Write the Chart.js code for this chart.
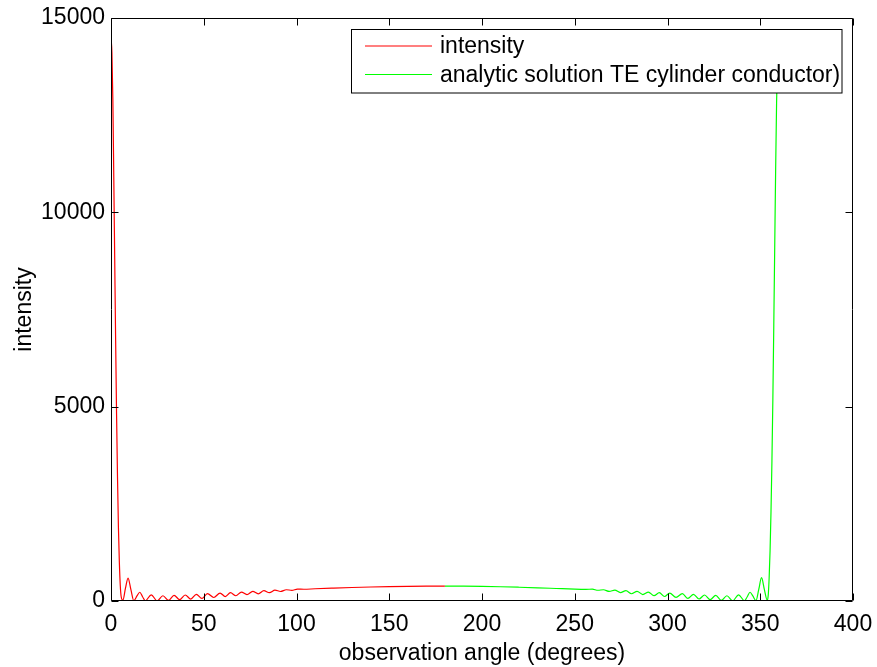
<!DOCTYPE html>
<html>
<head>
<meta charset="utf-8">
<script src="https://cdn.jsdelivr.net/npm/chart.js@4/dist/chart.umd.min.js"></script>
<style>
  html, body { margin: 0; padding: 0; background: #ffffff; }
  #wrap { width: 877px; height: 667px; }
</style>
</head>
<body>
<div id="wrap"><canvas id="c" width="877" height="667"></canvas></div>
<script>
// Computed intensity, 0..180 degrees
const simAngles = [0, 0.5, 1, 1.5, 2, 2.5, 3, 3.5, 4, 4.5, 5, 5.5, 6.4, 7.8, 9.2, 10.7, 12.3, 14, 15.5, 17, 18.5,
  21.7, 24.8, 28, 31, 34, 37, 40, 43, 46, 49, 52, 55.4, 58.8, 61.6, 64.4, 67.3, 70.3, 73.3, 76.4, 79.4,
  82.4, 85.4, 88.4, 91.4, 94.5, 97.5, 100.5, 104, 110, 120, 130, 140, 150, 160, 170, 180];
const simIntensity = [14500, 14100, 12900, 10900, 8800, 6700, 4800, 3200, 1900, 1000, 400, 110, 20, 330, 590, 300, 10, 130, 225, 110, 5,
  160, 5, 135, 15, 145, 35, 155, 50, 170, 65, 190, 90, 205, 115, 215, 135, 230, 165, 250, 185,
  265, 215, 280, 245, 290, 275, 305, 302, 315, 332, 347, 360, 370, 378, 383, 385];

// Analytic solution, 180..360 degrees
const exactAngles = [180, 190, 200, 210, 220, 230, 240, 250, 256, 259.5, 262.5, 265.5, 268.6, 271.6, 274.6, 277.6,
  280.6, 283.6, 286.7, 289.7, 292.7, 295.6, 298.4, 301.2, 304.6, 308, 311, 314, 317, 320, 323, 326, 329, 332,
  335.2, 338.3, 341.5, 343, 344.5, 346, 347.7, 349.2, 350.7, 352.2, 353.8, 354.3, 354.8, 355.3, 355.8, 356.3,
  356.8, 357.3, 357.8, 358.3, 358.8, 359.3, 359.7, 360];
const exactIntensity = [385, 382, 376, 367, 354, 339, 322, 305, 300, 304, 276, 290, 246, 280, 216, 265,
  186, 250, 166, 230, 136, 215, 116, 205, 91, 190, 66, 170, 51, 155, 36, 145, 16, 135,
  6, 160, 6, 110, 225, 130, 10, 300, 600, 300, 20, 150, 600, 1300, 2300, 3600,
  5200, 7100, 9100, 11100, 12800, 14000, 14500, 14600];

const xTicks = [0, 50, 100, 150, 200, 250, 300, 350, 400];
const yTicks = [0, 5000, 10000, 15000];

const seriesNames = ['intensity', 'analytic solution TE cylinder conductor)'];
const xTitle = 'observation angle (degrees)';
const yTitle = 'intensity';

const FONT = "'Liberation Sans', Arial, Helvetica, sans-serif";
const FONT_SIZE = 23;

function toPoints(xs, ys) {
  return xs.map((x, i) => ({ x: x, y: ys[i] }));
}

// Box, inward tick marks, axis titles and legend, drawn over the plot
const frame = {
  id: 'frame',
  afterDatasetsDraw(chart) {
    const { ctx, chartArea: a, scales } = chart;
    const xs = scales.x, ys = scales.y;
    const L = Math.round(a.left) + 0.5, R = Math.round(a.right) - 0.5;
    const T = Math.round(a.top) + 0.5, B = Math.round(a.bottom) - 0.5;
    const len = 7;
    ctx.save();
    ctx.strokeStyle = '#000000';
    ctx.lineWidth = 1;
    ctx.beginPath();
    ctx.rect(L, T, R - L, B - T);
    xTicks.forEach(v => {
      const px = Math.round(xs.getPixelForValue(v)) + 0.5;
      ctx.moveTo(px, B); ctx.lineTo(px, B - len);
      ctx.moveTo(px, T); ctx.lineTo(px, T + len);
    });
    yTicks.forEach(v => {
      const py = Math.round(ys.getPixelForValue(v)) + 0.5;
      ctx.moveTo(L, py); ctx.lineTo(L + len, py);
      ctx.moveTo(R, py); ctx.lineTo(R - len, py);
    });
    ctx.stroke();

    // axis titles
    ctx.fillStyle = '#000000';
    ctx.font = FONT_SIZE + 'px ' + FONT;
    ctx.textAlign = 'center';
    ctx.textBaseline = 'alphabetic';
    ctx.fillText(xTitle, (a.left + a.right) / 2, 660);
    ctx.save();
    ctx.translate(31, (a.top + a.bottom) / 2);
    ctx.rotate(-Math.PI / 2);
    ctx.fillText(yTitle, 0, 0);
    ctx.restore();

    // legend
    const lx = 351.5, ly = 29.5, lw = 490.5, lh = 63.5;
    ctx.fillStyle = '#ffffff';
    ctx.fillRect(lx, ly, lw, lh);
    ctx.strokeStyle = '#000000';
    ctx.strokeRect(lx, ly, lw, lh);
    const rows = [46, 74.5];
    chart.data.datasets.forEach((ds, i) => {
      ctx.strokeStyle = ds.borderColor;
      ctx.lineWidth = 1.2;
      ctx.beginPath();
      ctx.moveTo(365, rows[i]);
      ctx.lineTo(432, rows[i]);
      ctx.stroke();
      ctx.fillStyle = '#000000';
      ctx.textAlign = 'left';
      ctx.textBaseline = 'middle';
      ctx.fillText(ds.label, 440, rows[i] + 1);
    });
    ctx.restore();
  }
};

new Chart(document.getElementById('c'), {
  type: 'line',
  data: {
    datasets: [
      {
        label: seriesNames[0],
        data: toPoints(simAngles, simIntensity),
        borderColor: '#ff0000',
        borderWidth: 1.2,
        pointRadius: 0,
        cubicInterpolationMode: 'monotone',
        fill: false
      },
      {
        label: seriesNames[1],
        data: toPoints(exactAngles, exactIntensity),
        borderColor: '#00ff00',
        borderWidth: 1.2,
        pointRadius: 0,
        cubicInterpolationMode: 'monotone',
        fill: false
      }
    ]
  },
  options: {
    responsive: false,
    animation: false,
    devicePixelRatio: 1,
    parsing: true,
    layout: { padding: { top: 18, right: 24, left: 0, bottom: 0 } },
    plugins: {
      legend: { display: false },
      tooltip: { enabled: false }
    },
    scales: {
      x: {
        type: 'linear',
        min: 0,
        max: 400,
        grid: { display: false, drawTicks: false },
        border: { display: false },
        afterBuildTicks: s => { s.ticks = xTicks.map(v => ({ value: v })); },
        afterFit: s => { s.height = 66; s.paddingLeft = 0; s.paddingRight = 0; },
        ticks: {
          autoSkip: false,
          maxRotation: 0,
          padding: 10,
          color: '#000000',
          font: { family: FONT, size: FONT_SIZE },
          callback: v => String(v)
        }
      },
      y: {
        type: 'linear',
        min: 0,
        max: 15000,
        grid: { display: false, drawTicks: false },
        border: { display: false },
        afterBuildTicks: s => { s.ticks = yTicks.map(v => ({ value: v })); },
        afterFit: s => { s.width = 111; s.paddingTop = 0; s.paddingBottom = 0; },
        ticks: {
          autoSkip: false,
          padding: 6,
          color: '#000000',
          font: { family: FONT, size: FONT_SIZE },
          callback: v => String(v)
        }
      }
    }
  },
  plugins: [frame]
});
</script>
</body>
</html>
